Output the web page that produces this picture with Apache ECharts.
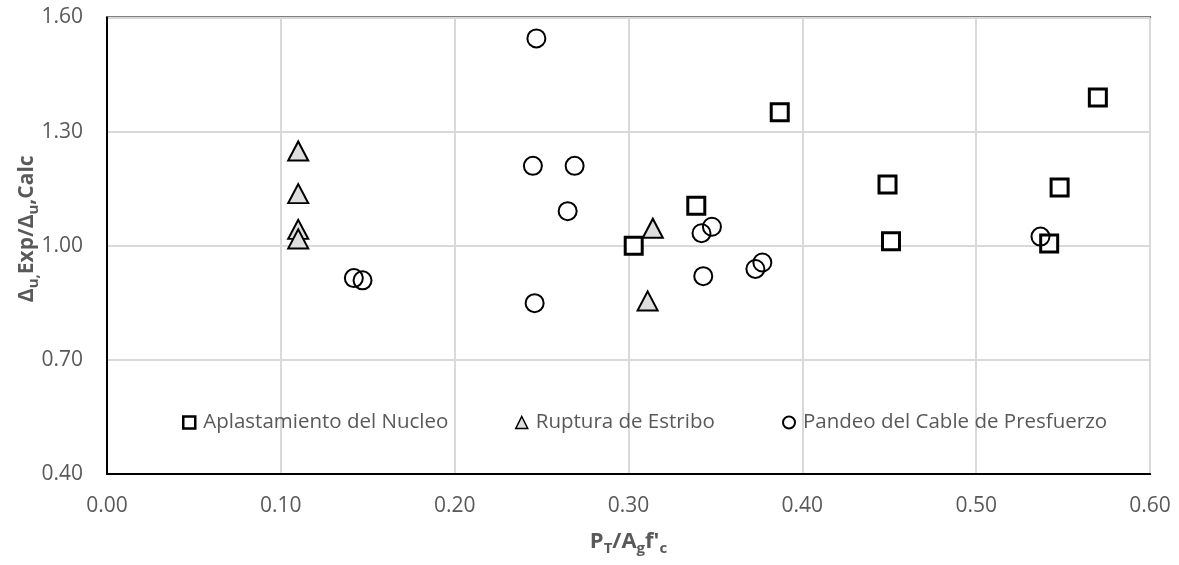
<!DOCTYPE html>
<html>
<head>
<meta charset="utf-8">
<script src="https://cdn.jsdelivr.net/npm/echarts@6/dist/echarts.min.js"></script>
<style>
  html, body { margin: 0; padding: 0; background: #fff; }
  #chart { width: 1179px; height: 565px; }
</style>
</head>
<body>
<div id="chart"></div>
<script>
// ---- Data ----
const seriesNames = ['Aplastamiento del Nucleo', 'Ruptura de Estribo', 'Pandeo del Cable de Presfuerzo'];

const nucleoX = [0.303, 0.339, 0.387, 0.449, 0.451, 0.542, 0.548, 0.570];
const nucleoY = [1.000, 1.105, 1.351, 1.161, 1.012, 1.006, 1.153, 1.390];

const estriboX = [0.110, 0.110, 0.110, 0.110, 0.314, 0.311];
const estriboY = [1.249, 1.137, 1.043, 1.018, 1.046, 0.855];

const pandeoX = [0.142, 0.147, 0.247, 0.245, 0.269, 0.265, 0.246, 0.348, 0.342, 0.343, 0.377, 0.373, 0.537];
const pandeoY = [0.915, 0.909, 1.545, 1.210, 1.210, 1.091, 0.849, 1.050, 1.033, 0.920, 0.956, 0.939, 1.024];

const xTicks = [0.00, 0.10, 0.20, 0.30, 0.40, 0.50, 0.60];
const yTicks = [0.40, 0.70, 1.00, 1.30, 1.60];

// ---- Helpers ----
function pairs(xs, ys) { return xs.map((x, i) => [x, ys[i]]); }

const FONT = 'Open Sans';
const GREY = '#595959';
const TRI_FILL = '#dedede';

const chart = echarts.init(document.getElementById('chart'), null, { renderer: 'canvas' });

const legendText = { fontFamily: FONT, fontSize: 20.5, color: GREY, padding: [0, 0, 0, 3] };
function legendAt(name, left, icon, itemStyle) {
  return {
    data: [{ name: name, icon: icon, itemStyle: itemStyle }],
    left: left, top: 412,
    itemWidth: 12, itemHeight: 12,
    padding: 0,
    textStyle: legendText,
    selectedMode: false
  };
}

const option = {
  animation: false,
  backgroundColor: '#ffffff',
  grid: {
    left: 107, right: 29, top: 17.5, bottom: 91,
    show: true, borderColor: '#000000', borderWidth: 2, backgroundColor: 'transparent'
  },
  legend: [
    legendAt(seriesNames[0], 182, 'rect', { color: '#ffffff', borderColor: '#000000', borderWidth: 2.5 }),
    legendAt(seriesNames[1], 515, 'triangle', { color: TRI_FILL, borderColor: '#000000', borderWidth: 1.5 }),
    legendAt(seriesNames[2], 782, 'circle', { color: '#ffffff', borderColor: '#000000', borderWidth: 2 })
  ],
  xAxis: {
    type: 'value',
    min: xTicks[0], max: xTicks[xTicks.length - 1], interval: 0.1,
    axisLine: { show: true, lineStyle: { color: '#000000', width: 2 } },
    axisTick: { show: false },
    splitLine: { show: true, lineStyle: { color: '#d9d9d9', width: 2 } },
    axisLabel: {
      margin: 22, fontFamily: FONT, fontSize: 21, color: GREY,
      formatter: v => v.toFixed(2)
    },
    name: '{b|P}{s|T}{b|/A}{s|g}{b|f\'}{s|c}',
    nameLocation: 'middle',
    nameGap: 54,
    nameMoveOverlap: false,
    nameTextStyle: {
      rich: {
        b: { fontFamily: FONT, fontSize: 22, fontWeight: 'bold', color: GREY, lineHeight: 28 },
        s: { fontFamily: FONT, fontSize: 15, fontWeight: 'bold', color: GREY, lineHeight: 15, verticalAlign: 'bottom' }
      }
    }
  },
  yAxis: {
    type: 'value',
    min: yTicks[0], max: yTicks[yTicks.length - 1], interval: 0.3,
    axisLine: { show: true, lineStyle: { color: '#000000', width: 2 } },
    axisTick: { show: false },
    splitLine: { show: true, lineStyle: { color: '#d9d9d9', width: 2 } },
    axisLabel: {
      margin: 24, fontFamily: FONT, fontSize: 21, color: GREY,
      formatter: v => v.toFixed(2)
    },
    name: '{b|Δ}{s|u,}{b|Exp/Δ}{s|u}{b|,Calc}',
    nameLocation: 'middle',
    nameRotate: 90,
    nameGap: 66,
    nameMoveOverlap: false,
    nameTextStyle: {
      padding: [0, 0, 0, 34],
      rich: {
        b: { fontFamily: FONT, fontSize: 21, fontWeight: 'bold', color: GREY, lineHeight: 27 },
        s: { fontFamily: FONT, fontSize: 15, fontWeight: 'bold', color: GREY, lineHeight: 15, verticalAlign: 'bottom' }
      }
    }
  },
  series: [
    {
      name: seriesNames[0], type: 'scatter',
      data: pairs(nucleoX, nucleoY),
      symbol: 'rect', symbolSize: 17,
      itemStyle: { color: '#ffffff', borderColor: '#000000', borderWidth: 3, opacity: 1 },
      z: 2
    },
    {
      name: seriesNames[1], type: 'scatter',
      data: pairs(estriboX, estriboY),
      symbol: 'triangle', symbolSize: [20, 19],
      itemStyle: { color: TRI_FILL, borderColor: '#000000', borderWidth: 2, opacity: 1 },
      z: 3
    },
    {
      name: seriesNames[2], type: 'scatter',
      data: pairs(pandeoX, pandeoY),
      symbol: 'circle', symbolSize: 18,
      itemStyle: { color: 'transparent', borderColor: '#000000', borderWidth: 2, opacity: 1 },
      z: 4
    }
  ]
};

chart.setOption(option);
</script>
</body>
</html>
